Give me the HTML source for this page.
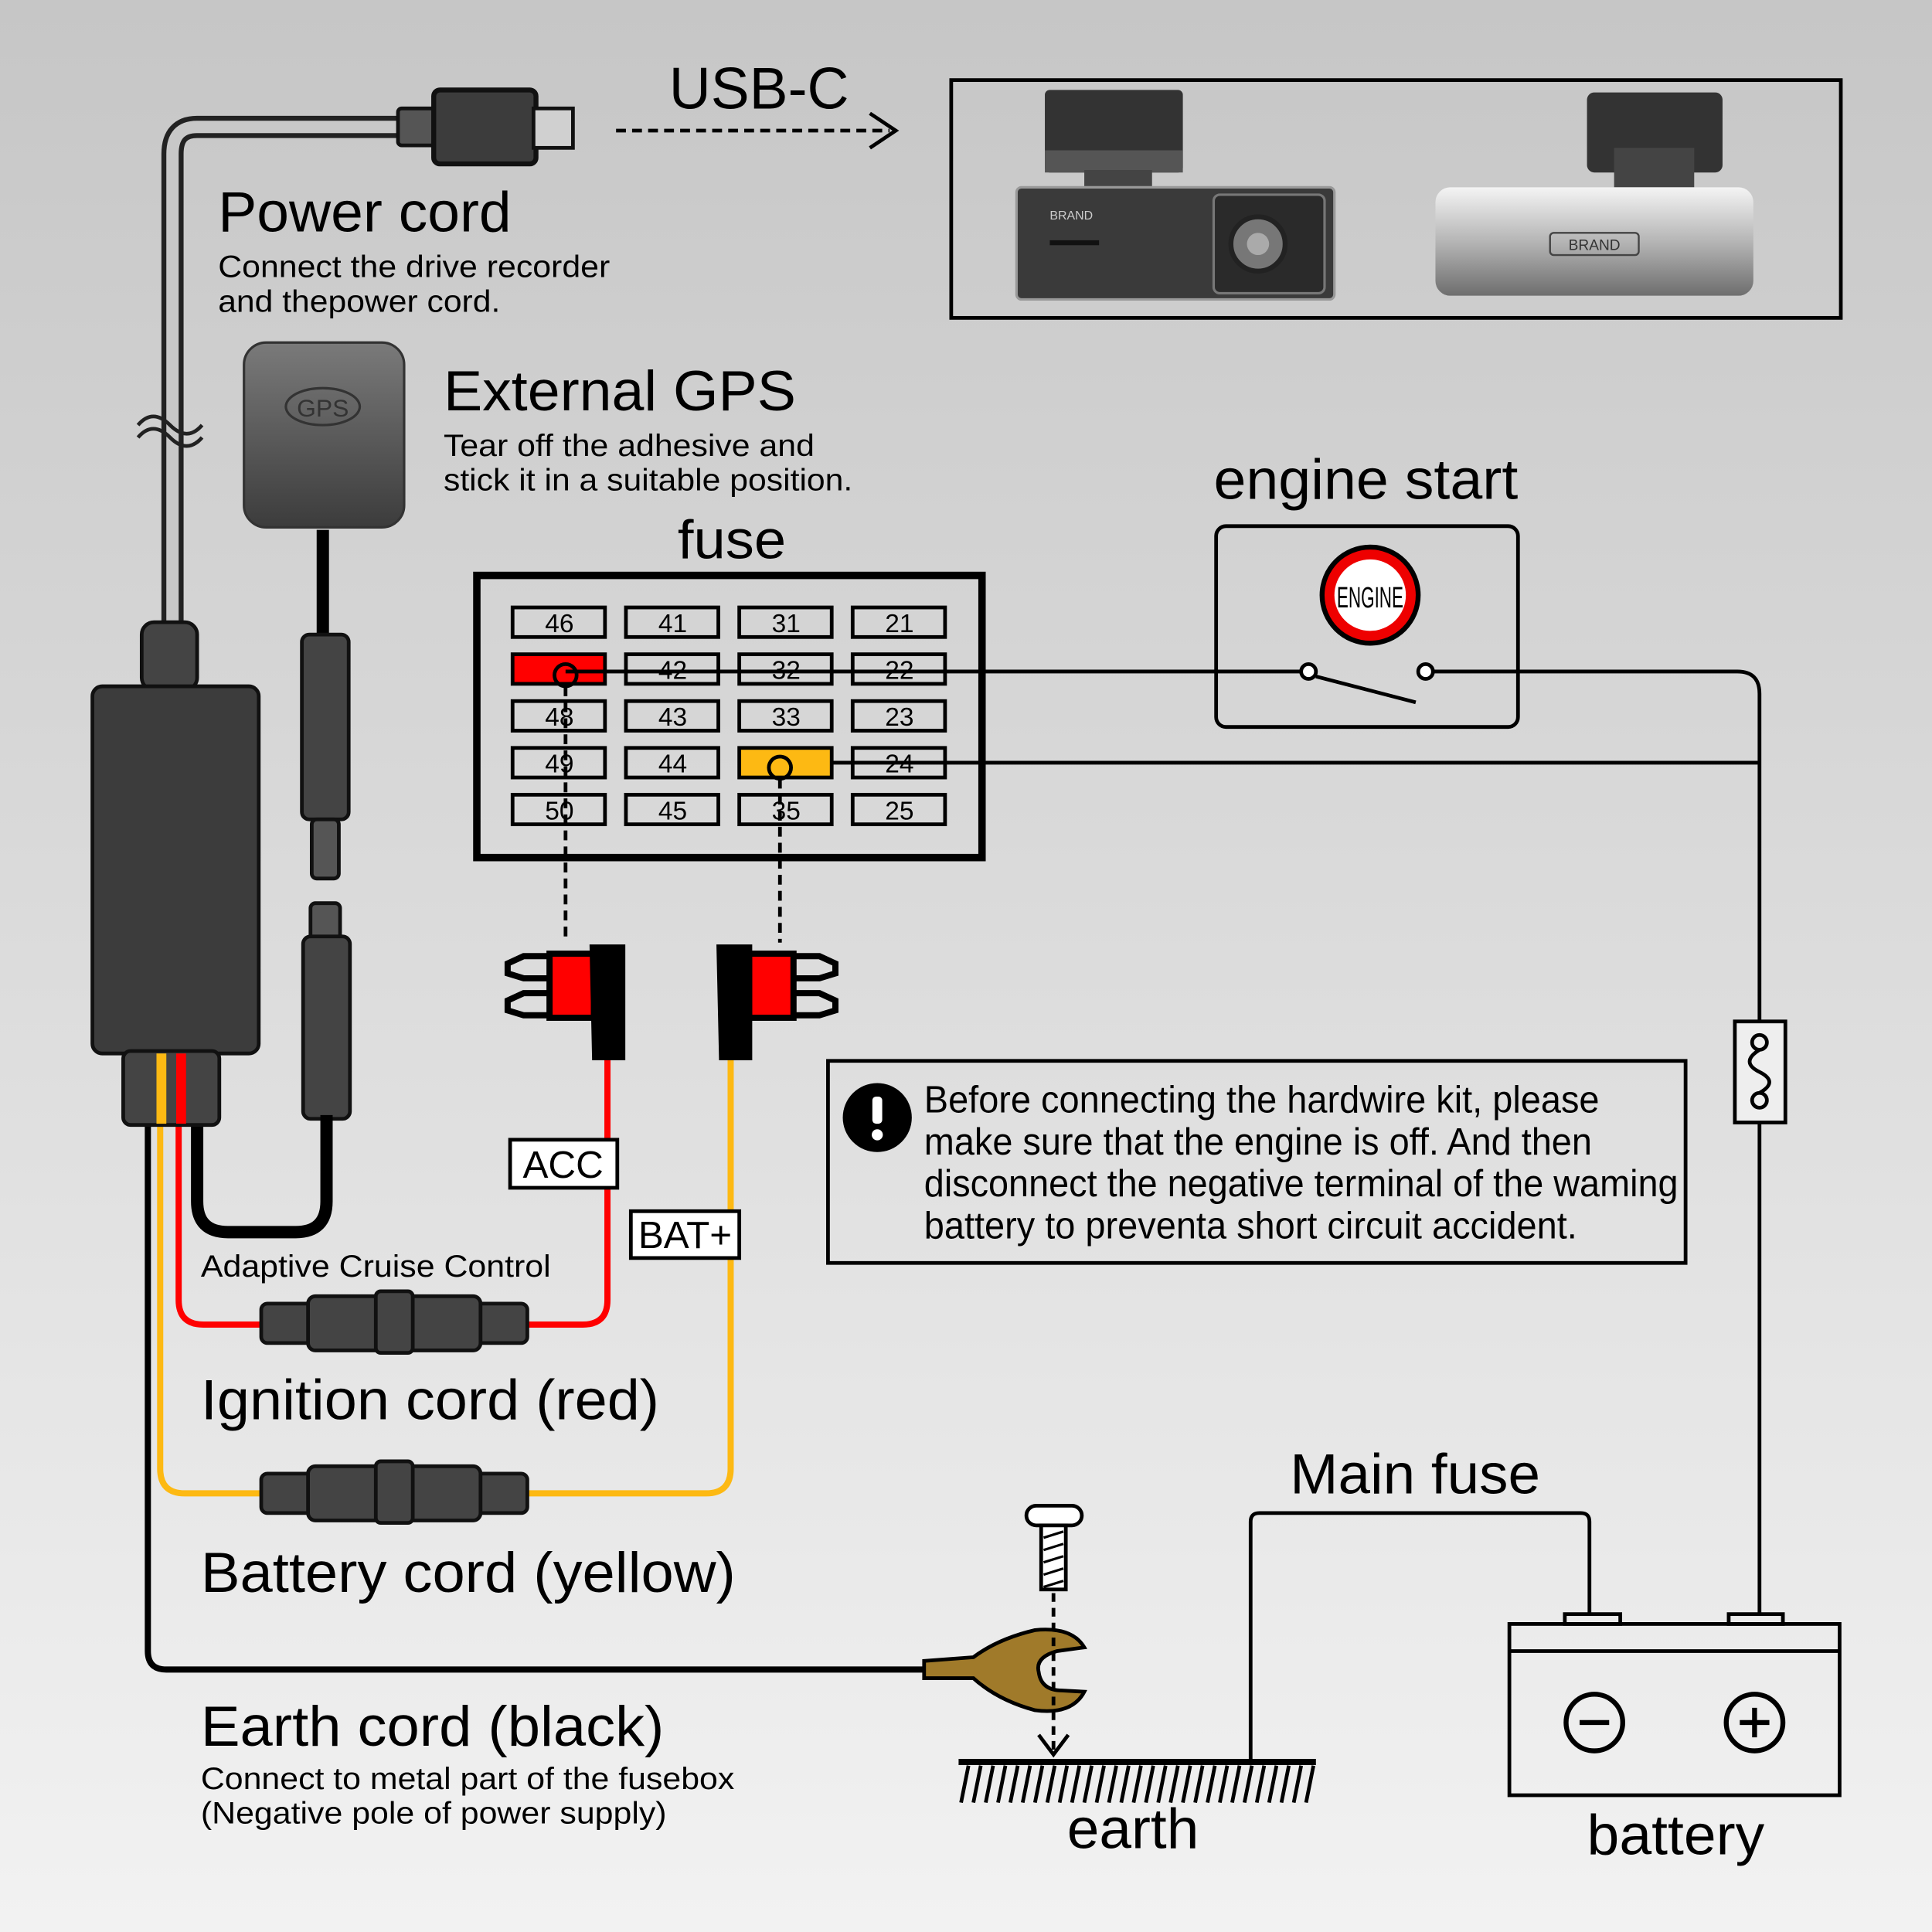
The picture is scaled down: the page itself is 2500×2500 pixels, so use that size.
<!DOCTYPE html>
<html><head><meta charset="utf-8"><style>
html,body{margin:0;padding:0;width:2500px;height:2500px;overflow:hidden}
svg{display:block}
text{font-family:"Liberation Sans",sans-serif;fill:#000}
</style></head><body>
<svg width="2500" height="2500" viewBox="0 0 1568 1568" xmlns="http://www.w3.org/2000/svg">
<defs>
<linearGradient id="bg" x1="0" y1="0" x2="0" y2="1"><stop offset="0" stop-color="#c6c6c6"/><stop offset="1" stop-color="#f2f2f2"/></linearGradient>
<linearGradient id="silver" x1="0" y1="0" x2="0" y2="1"><stop offset="0" stop-color="#f4f4f4"/><stop offset="0.5" stop-color="#b5b5b5"/><stop offset="1" stop-color="#6e6e6e"/></linearGradient>
<linearGradient id="gps" x1="0" y1="0" x2="0" y2="1"><stop offset="0" stop-color="#7a7a7a"/><stop offset="1" stop-color="#3c3c3c"/></linearGradient>
</defs>
<rect width="1568" height="1568" fill="url(#bg)"/>

<path d="M330,103 H160 Q140,103 140,125 V505" fill="none" stroke="#222" stroke-width="18"/>
<path d="M330,103 H160 Q140,103 140,125 V505" fill="none" stroke="#c8c8c8" stroke-width="10"/>
<path d="M112,345 q12,-14 26,0 t26,0 M112,355 q12,-14 26,0 t26,0" fill="none" stroke="#222" stroke-width="3"/>
<rect x="323" y="88" width="32" height="30" rx="3" fill="#555" stroke="#111" stroke-width="3"/>
<rect x="352" y="73" width="83" height="60" rx="5" fill="#3c3c3c" stroke="#111" stroke-width="4"/>
<rect x="433" y="88" width="32" height="32" fill="#d0d0d0" stroke="#111" stroke-width="3"/>
<text x="543" y="88" font-size="48" textLength="146" lengthAdjust="spacingAndGlyphs">USB-C</text>
<line x1="500" y1="106" x2="722" y2="106" stroke="#000" stroke-width="3" stroke-dasharray="8,5"/>
<path d="M706,92 L727,106 L706,120" fill="none" stroke="#000" stroke-width="3"/>

<text x="177" y="188" font-size="46" textLength="238" lengthAdjust="spacingAndGlyphs">Power cord</text>
<text x="177" y="225" font-size="25" textLength="318" lengthAdjust="spacingAndGlyphs">Connect the drive recorder</text>
<text x="177" y="253" font-size="25" textLength="229" lengthAdjust="spacingAndGlyphs">and thepower cord.</text>

<rect x="772" y="65" width="722" height="193" fill="none" stroke="#000" stroke-width="3"/>
<rect x="848" y="73" width="112" height="67" rx="4" fill="#333"/>
<rect x="848" y="122" width="112" height="18" fill="#555"/>
<rect x="880" y="138" width="55" height="16" fill="#444"/>
<rect x="825" y="152" width="258" height="91" rx="4" fill="#3a3a3a" stroke="#999" stroke-width="2"/>
<rect x="985" y="158" width="90" height="80" rx="5" fill="#2a2a2a" stroke="#777" stroke-width="2"/>
<circle cx="1021" cy="198" r="22" fill="#777" stroke="#222" stroke-width="4"/>
<circle cx="1021" cy="198" r="9" fill="#aaa"/>
<text x="852" y="178" font-size="10" style="fill:#ccc">BRAND</text>
<rect x="852" y="195" width="40" height="4" fill="#111"/>
<rect x="1288" y="75" width="110" height="65" rx="6" fill="#333"/>
<rect x="1310" y="120" width="65" height="32" fill="#444"/>
<rect x="1165" y="152" width="258" height="88" rx="12" fill="url(#silver)"/>
<rect x="1258" y="189" width="72" height="18" rx="3" fill="none" stroke="#444" stroke-width="1.5"/>
<text x="1294" y="203" font-size="12" text-anchor="middle" style="fill:#333">BRAND</text>

<rect x="198" y="278" width="130" height="150" rx="18" fill="url(#gps)" stroke="#333" stroke-width="2"/>
<ellipse cx="262" cy="330" rx="30" ry="15" fill="none" stroke="#333" stroke-width="2"/>
<text x="262" y="338" font-size="20" text-anchor="middle" style="fill:#333">GPS</text>
<line x1="262" y1="430" x2="262" y2="520" stroke="#000" stroke-width="10"/>
<rect x="245" y="515" width="38" height="150" rx="6" fill="#444" stroke="#111" stroke-width="3"/>
<rect x="253" y="665" width="22" height="48" rx="4" fill="#555" stroke="#111" stroke-width="3"/>
<rect x="252" y="733" width="24" height="30" rx="4" fill="#555" stroke="#111" stroke-width="3"/>
<rect x="246" y="760" width="38" height="148" rx="6" fill="#444" stroke="#111" stroke-width="3"/>
<text x="360" y="333" font-size="46" textLength="286" lengthAdjust="spacingAndGlyphs">External GPS</text>
<text x="360" y="370" font-size="25" textLength="301" lengthAdjust="spacingAndGlyphs">Tear off the adhesive and</text>
<text x="360" y="398" font-size="25" textLength="332" lengthAdjust="spacingAndGlyphs">stick it in a suitable position.</text>

<path d="M265,905 V975 Q265,1000 240,1000 H185 Q160,1000 160,975 V912" fill="none" stroke="#000" stroke-width="10"/>
<path d="M493,858 V1055 Q493,1075 473,1075 H165 Q145,1075 145,1055 V912" fill="none" stroke="#f00" stroke-width="5"/>
<path d="M593,858 V1192 Q593,1212 573,1212 H150 Q130,1212 130,1192 V912" fill="none" stroke="#fdb913" stroke-width="5"/>
<path d="M120,912 V1340 Q120,1355 135,1355 H760" fill="none" stroke="#000" stroke-width="5"/>

<rect x="115" y="505" width="45" height="55" rx="10" fill="#444" stroke="#111" stroke-width="3"/>
<rect x="75" y="557" width="135" height="298" rx="8" fill="#3c3c3c" stroke="#111" stroke-width="3"/>
<rect x="100" y="853" width="78" height="60" rx="6" fill="#444" stroke="#111" stroke-width="3"/>
<rect x="127" y="855" width="8" height="57" fill="#fdb913"/><rect x="143" y="855" width="8" height="57" fill="#f00"/>

<g fill="#444" stroke="#111" stroke-width="3">
<rect x="212" y="1058" width="216" height="32" rx="5"/><rect x="250" y="1052" width="140" height="44" rx="6"/><rect x="305" y="1048" width="30" height="50" rx="4"/>
<rect x="212" y="1196" width="216" height="32" rx="5"/><rect x="250" y="1190" width="140" height="44" rx="6"/><rect x="305" y="1186" width="30" height="50" rx="4"/>
</g>
<text x="163" y="1036" font-size="25" textLength="284" lengthAdjust="spacingAndGlyphs">Adaptive Cruise Control</text>
<text x="163" y="1152" font-size="46" textLength="372" lengthAdjust="spacingAndGlyphs">Ignition cord (red)</text>
<text x="163" y="1292" font-size="46" textLength="434" lengthAdjust="spacingAndGlyphs">Battery cord (yellow)</text>
<text x="163" y="1417" font-size="46" textLength="376" lengthAdjust="spacingAndGlyphs">Earth cord (black)</text>
<text x="163" y="1452" font-size="25" textLength="433" lengthAdjust="spacingAndGlyphs">Connect to metal part of the fusebox</text>
<text x="163" y="1480" font-size="25" textLength="378" lengthAdjust="spacingAndGlyphs">(Negative pole of power supply)</text>

<rect x="414" y="925" width="87" height="39" fill="#fff" stroke="#000" stroke-width="3"/>
<text x="457" y="956" font-size="31" text-anchor="middle">ACC</text>
<rect x="512" y="983" width="88" height="38" fill="#fff" stroke="#000" stroke-width="3"/>
<text x="556" y="1013" font-size="31" text-anchor="middle">BAT+</text>

<text x="550" y="453" font-size="44" textLength="88" lengthAdjust="spacingAndGlyphs">fuse</text>
<rect x="387" y="467" width="410" height="229" fill="none" stroke="#000" stroke-width="6"/>
<g stroke="#000" stroke-width="3">
<rect x="416" y="493" width="75" height="24" fill="none"/><rect x="508" y="493" width="75" height="24" fill="none"/><rect x="600" y="493" width="75" height="24" fill="none"/><rect x="692" y="493" width="75" height="24" fill="none"/>
<rect x="416" y="531" width="75" height="24" fill="#f00"/><rect x="508" y="531" width="75" height="24" fill="none"/><rect x="600" y="531" width="75" height="24" fill="none"/><rect x="692" y="531" width="75" height="24" fill="none"/>
<rect x="416" y="569" width="75" height="24" fill="none"/><rect x="508" y="569" width="75" height="24" fill="none"/><rect x="600" y="569" width="75" height="24" fill="none"/><rect x="692" y="569" width="75" height="24" fill="none"/>
<rect x="416" y="607" width="75" height="24" fill="none"/><rect x="508" y="607" width="75" height="24" fill="none"/><rect x="600" y="607" width="75" height="24" fill="#fdb913"/><rect x="692" y="607" width="75" height="24" fill="none"/>
<rect x="416" y="645" width="75" height="24" fill="none"/><rect x="508" y="645" width="75" height="24" fill="none"/><rect x="600" y="645" width="75" height="24" fill="none"/><rect x="692" y="645" width="75" height="24" fill="none"/>
</g>
<g font-size="21" text-anchor="middle">
<text x="454" y="513">46</text><text x="546" y="513">41</text><text x="638" y="513">31</text><text x="730" y="513">21</text>
<text x="546" y="551">42</text><text x="638" y="551">32</text><text x="730" y="551">22</text>
<text x="454" y="589">48</text><text x="546" y="589">43</text><text x="638" y="589">33</text><text x="730" y="589">23</text>
<text x="454" y="627">49</text><text x="546" y="627">44</text><text x="730" y="627">24</text>
<text x="454" y="665">50</text><text x="546" y="665">45</text><text x="638" y="665">35</text><text x="730" y="665">25</text>
</g>
<path d="M459,545 H1056 M1163,545 H1410 Q1428,545 1428,563 V828 M1428,911 V1310" fill="none" stroke="#000" stroke-width="3"/>
<path d="M676,619 H1428" stroke="#000" stroke-width="3"/>
<circle cx="459" cy="548" r="9" fill="none" stroke="#000" stroke-width="3"/>
<circle cx="633" cy="623" r="9" fill="none" stroke="#000" stroke-width="3"/>
<line x1="459" y1="557" x2="459" y2="765" stroke="#000" stroke-width="3" stroke-dasharray="8,5"/>
<line x1="633" y1="632" x2="633" y2="765" stroke="#000" stroke-width="3" stroke-dasharray="8,5"/>

<g stroke="#000" stroke-width="5">
<path d="M447,776 H425 L412,782 V790 L425,794 H447 Z" fill="none"/><path d="M447,806 H425 L412,812 V820 L425,824 H447 Z" fill="none"/>
<rect x="446" y="774" width="36" height="52" fill="#f00"/>
<path d="M481,769 H505 V858 H483 Z" fill="#000"/>
<path d="M643,776 H665 L678,782 V790 L665,794 H643 Z" fill="none"/><path d="M643,806 H665 L678,812 V820 L665,824 H643 Z" fill="none"/>
<rect x="608" y="774" width="36" height="52" fill="#f00"/>
<path d="M584,769 H608 V858 H586 Z" fill="#000"/>
</g>

<text x="985" y="405" font-size="46" textLength="247" lengthAdjust="spacingAndGlyphs">engine start</text>
<rect x="987" y="427" width="245" height="163" rx="8" fill="none" stroke="#000" stroke-width="3"/>
<circle cx="1112" cy="483" r="41" fill="#000"/>
<circle cx="1112" cy="483" r="37" fill="#e00"/>
<circle cx="1112" cy="483" r="29" fill="#fff"/>
<text x="1112" y="493" font-size="24" text-anchor="middle" textLength="54" lengthAdjust="spacingAndGlyphs">ENGINE</text>
<circle cx="1062" cy="545" r="6" fill="#fff" stroke="#000" stroke-width="3"/>
<circle cx="1157" cy="545" r="6" fill="#fff" stroke="#000" stroke-width="3"/>
<line x1="1068" y1="549" x2="1149" y2="570" stroke="#000" stroke-width="3"/>

<rect x="672" y="861" width="696" height="164" fill="none" stroke="#000" stroke-width="3"/>
<circle cx="712" cy="907" r="28" fill="#000"/>
<rect x="708" y="890" width="8" height="22" rx="3" fill="#fff"/><circle cx="712" cy="921" r="4.5" fill="#fff"/>
<g font-size="31">
<text x="750" y="903" textLength="548" lengthAdjust="spacingAndGlyphs">Before connecting the hardwire kit, please</text>
<text x="750" y="937" textLength="542" lengthAdjust="spacingAndGlyphs">make sure that the engine is off. And then</text>
<text x="750" y="971" textLength="612" lengthAdjust="spacingAndGlyphs">disconnect the negative terminal of the waming</text>
<text x="750" y="1005" textLength="530" lengthAdjust="spacingAndGlyphs">battery to preventa short circuit accident.</text>
</g>

<rect x="1408" y="829" width="41" height="82" fill="#eee" stroke="#000" stroke-width="3"/>
<circle cx="1428" cy="846" r="6" fill="none" stroke="#000" stroke-width="3"/>
<circle cx="1428" cy="893" r="6" fill="none" stroke="#000" stroke-width="3"/>
<path d="M1428,852 Q1412,862 1428,870 Q1444,878 1428,887" fill="none" stroke="#000" stroke-width="3"/>

<text x="1047" y="1212" font-size="46" textLength="203" lengthAdjust="spacingAndGlyphs">Main fuse</text>
<path d="M1015,1428 V1235 Q1015,1228 1022,1228 H1283 Q1290,1228 1290,1235 V1310" fill="none" stroke="#000" stroke-width="3"/>
<rect x="1270" y="1310" width="45" height="8" fill="none" stroke="#000" stroke-width="3"/>
<rect x="1403" y="1310" width="44" height="8" fill="none" stroke="#000" stroke-width="3"/>
<rect x="1225" y="1318" width="268" height="139" fill="none" stroke="#000" stroke-width="3"/>
<line x1="1225" y1="1340" x2="1493" y2="1340" stroke="#000" stroke-width="3"/>
<circle cx="1294" cy="1398" r="23" fill="none" stroke="#000" stroke-width="4"/>
<line x1="1282" y1="1398" x2="1306" y2="1398" stroke="#000" stroke-width="4"/>
<circle cx="1424" cy="1398" r="23" fill="none" stroke="#000" stroke-width="4"/>
<path d="M1412,1398 H1436 M1424,1386 V1410" stroke="#000" stroke-width="4"/>
<text x="1288" y="1505" font-size="46" textLength="144" lengthAdjust="spacingAndGlyphs">battery</text>

<rect x="833" y="1222" width="45" height="16" rx="8" fill="#fff" stroke="#000" stroke-width="3"/>
<rect x="845" y="1238" width="20" height="52" fill="#fff" stroke="#000" stroke-width="3"/>
<path d="M847,1248 L863,1243 M847,1258 L863,1253 M847,1268 L863,1263 M847,1278 L863,1273 M847,1288 L863,1283" stroke="#000" stroke-width="2"/>
<path d="M750,1348 L790,1345 Q810,1330 840,1323 Q870,1320 880,1337 L858,1340 Q840,1345 843,1357 Q845,1372 862,1372 L880,1373 Q870,1392 840,1388 Q810,1380 790,1362 L750,1362 Z" fill="#a07a2a" stroke="#000" stroke-width="3"/>
<line x1="855" y1="1293" x2="855" y2="1420" stroke="#000" stroke-width="3" stroke-dasharray="7,5"/>
<path d="M843,1408 L855,1424 L867,1408" fill="none" stroke="#000" stroke-width="3"/>
<line x1="778" y1="1430" x2="1068" y2="1430" stroke="#000" stroke-width="5"/>
<path d="M786,1433 l-6,30 M796,1433 l-6,30 M806,1433 l-6,30 M816,1433 l-6,30 M826,1433 l-6,30 M836,1433 l-6,30 M846,1433 l-6,30 M856,1433 l-6,30 M866,1433 l-6,30 M876,1433 l-6,30 M886,1433 l-6,30 M896,1433 l-6,30 M906,1433 l-6,30 M916,1433 l-6,30 M926,1433 l-6,30 M936,1433 l-6,30 M946,1433 l-6,30 M956,1433 l-6,30 M966,1433 l-6,30 M976,1433 l-6,30 M986,1433 l-6,30 M996,1433 l-6,30 M1006,1433 l-6,30 M1016,1433 l-6,30 M1026,1433 l-6,30 M1036,1433 l-6,30 M1046,1433 l-6,30 M1056,1433 l-6,30 M1066,1433 l-6,30" stroke="#000" stroke-width="3"/>
<text x="866" y="1500" font-size="46" textLength="107" lengthAdjust="spacingAndGlyphs">earth</text>
</svg>
</body></html>
